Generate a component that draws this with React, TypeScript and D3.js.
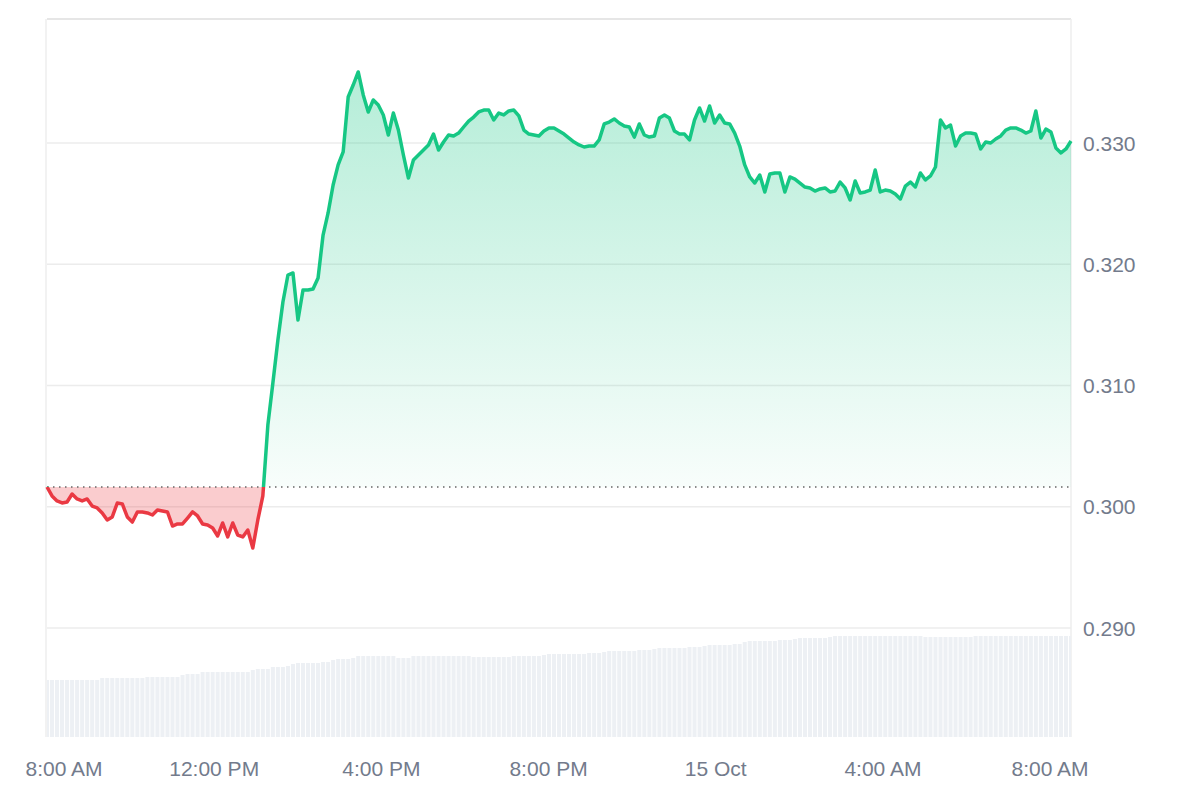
import { useRef, useEffect } from 'react'
import * as d3 from 'd3'

// 24h price, sampled evenly from 8:00 AM (14 Oct) to 8:30 AM (15 Oct)
const startTime = new Date(2024, 9, 14, 8, 0)
const endTime = new Date(2024, 9, 15, 8, 30)

const prices = [
	0.30163, 0.30089, 0.30048, 0.30031, 0.30039, 0.30105, 0.30064, 0.30048, 0.30064, 0.30006,
	0.29990, 0.29949, 0.29891, 0.29916, 0.30031, 0.30023, 0.29916, 0.29874, 0.29957, 0.29957,
	0.29949, 0.29932, 0.29973, 0.29965, 0.29957, 0.29841, 0.29858, 0.29858, 0.29907, 0.29957,
	0.29924, 0.29858, 0.29850, 0.29825, 0.29759, 0.29866, 0.29751, 0.29866, 0.29767, 0.29751,
	0.29808, 0.29660, 0.29891, 0.30089, 0.30674, 0.31021, 0.31375, 0.31689, 0.31911, 0.31928,
	0.31540, 0.31788, 0.31788, 0.31796, 0.31887, 0.32241, 0.32423, 0.32654, 0.32819, 0.32926,
	0.33379, 0.33478, 0.33586, 0.33396, 0.33256, 0.33355, 0.33313, 0.33231, 0.33066, 0.33247,
	0.33107, 0.32901, 0.32711, 0.32860, 0.32901, 0.32942, 0.32984, 0.33074, 0.32942, 0.33008,
	0.33066, 0.33058, 0.33082, 0.33132, 0.33181, 0.33214, 0.33256, 0.33272, 0.33272, 0.33190,
	0.33247, 0.33231, 0.33264, 0.33272, 0.33223, 0.33107, 0.33074, 0.33066, 0.33058, 0.33099,
	0.33124, 0.33124, 0.33099, 0.33074, 0.33041, 0.33008, 0.32984, 0.32967, 0.32975, 0.32975,
	0.33025, 0.33157, 0.33173, 0.33198, 0.33165, 0.33140, 0.33132, 0.33049, 0.33157, 0.33066,
	0.33049, 0.33058, 0.33206, 0.33231, 0.33206, 0.33099, 0.33074, 0.33074, 0.33025, 0.33190,
	0.33289, 0.33181, 0.33305, 0.33165, 0.33231, 0.33165, 0.33157, 0.33082, 0.32975, 0.32819,
	0.32720, 0.32670, 0.32736, 0.32596, 0.32744, 0.32753, 0.32753, 0.32596, 0.32720, 0.32703,
	0.32670, 0.32637, 0.32629, 0.32604, 0.32621, 0.32629, 0.32596, 0.32604, 0.32678, 0.32629,
	0.32530, 0.32687, 0.32588, 0.32596, 0.32612, 0.32777, 0.32596, 0.32612, 0.32604, 0.32579,
	0.32538, 0.32645, 0.32678, 0.32637, 0.32753, 0.32695, 0.32728, 0.32802, 0.33190, 0.33124,
	0.33148, 0.32975, 0.33058, 0.33082, 0.33082, 0.33074, 0.32951, 0.33008, 0.33000, 0.33033,
	0.33058, 0.33107, 0.33124, 0.33124, 0.33107, 0.33082, 0.33099, 0.33264, 0.33041, 0.33115,
	0.33091, 0.32959, 0.32918, 0.32951, 0.33016
]

// rolling volume (millions), one bar per price sample
const volumes = [
	5.7, 5.7, 5.7, 5.7, 5.7, 5.7, 5.7, 5.7, 5.7, 5.7,
	5.7, 5.9, 5.9, 5.9, 5.9, 5.9, 5.9, 5.9, 5.9, 5.9,
	6.0, 6.0, 6.0, 6.0, 6.0, 6.0, 6.0, 6.2, 6.3, 6.3,
	6.3, 6.5, 6.5, 6.5, 6.5, 6.5, 6.5, 6.5, 6.5, 6.5,
	6.5, 6.7, 6.8, 6.8, 6.8, 7.0, 7.0, 7.0, 7.1, 7.3,
	7.4, 7.4, 7.4, 7.4, 7.4, 7.5, 7.5, 7.7, 7.8, 7.8,
	7.8, 7.9, 8.1, 8.1, 8.1, 8.1, 8.1, 8.1, 8.1, 8.1,
	7.9, 7.9, 7.9, 8.1, 8.1, 8.1, 8.1, 8.1, 8.1, 8.1,
	8.1, 8.1, 8.1, 8.1, 8.1, 8.0, 8.0, 8.0, 8.0, 8.0,
	8.0, 8.0, 8.0, 8.1, 8.1, 8.1, 8.1, 8.1, 8.1, 8.2,
	8.3, 8.3, 8.3, 8.3, 8.3, 8.3, 8.3, 8.3, 8.4, 8.4,
	8.4, 8.5, 8.6, 8.6, 8.6, 8.6, 8.6, 8.6, 8.7, 8.7,
	8.7, 8.8, 8.9, 8.9, 8.9, 8.9, 8.9, 8.9, 9.0, 9.0,
	9.0, 9.1, 9.2, 9.2, 9.2, 9.2, 9.2, 9.3, 9.3, 9.5,
	9.6, 9.6, 9.6, 9.6, 9.6, 9.6, 9.7, 9.7, 9.7, 9.8,
	9.9, 9.9, 9.9, 9.9, 9.9, 9.9, 10.0, 10.1, 10.1, 10.1,
	10.1, 10.1, 10.1, 10.1, 10.1, 10.1, 10.1, 10.1, 10.1, 10.1,
	10.1, 10.1, 10.1, 10.1, 10.1, 10.0, 10.0, 10.0, 10.0, 10.0,
	10.0, 10.0, 10.0, 10.0, 10.0, 10.1, 10.1, 10.1, 10.1, 10.1,
	10.1, 10.1, 10.1, 10.1, 10.1, 10.1, 10.1, 10.1, 10.1, 10.1,
	10.1, 10.1, 10.1, 10.1, 10.1
]

const priceTicks = [0.29, 0.30, 0.31, 0.32, 0.33]

const W = 1200
const H = 800
const left = 47
const right = 1071
const top = 19
const bottom = 737

const green = '#16c784'
const red = '#ea3943'
const textColor = '#737b8c'
const font = '"Liberation Sans", Arial, Helvetica, sans-serif'

function App() {
	const ref = useRef(null)

	useEffect(() => {
		const svg = d3.select(ref.current)
		svg.selectAll('*').remove()

		const times = prices.map((_, i) => new Date(+startTime + i * (+endTime - +startTime) / (prices.length - 1)))
		const data = prices.map((p, i) => ({ t: times[i], p: p, v: volumes[i] }))

		const x = d3.scaleTime().domain([startTime, endTime]).range([left, right])
		const y = d3.scaleLinear().domain([0.29, 0.33]).range([628, 143])
		const yVol = d3.scaleLinear().domain([0, 10]).range([bottom, bottom - 100])

		const base = prices[0]
		const baseY = y(base)
		const step = x(times[1]) - x(times[0])

		const defs = svg.append('defs')
		defs.append('clipPath').attr('id', 'clip-plot')
			.append('rect').attr('x', left).attr('y', top).attr('width', right - left).attr('height', bottom - top)
		defs.append('clipPath').attr('id', 'clip-above')
			.append('rect').attr('x', 0).attr('y', 0).attr('width', W).attr('height', baseY)
		defs.append('clipPath').attr('id', 'clip-below')
			.append('rect').attr('x', 0).attr('y', baseY).attr('width', W).attr('height', H - baseY)

		const gGreen = defs.append('linearGradient').attr('id', 'grad-green')
			.attr('gradientUnits', 'userSpaceOnUse')
			.attr('x1', 0).attr('x2', 0).attr('y1', y(d3.max(prices))).attr('y2', baseY)
		gGreen.append('stop').attr('offset', '0%').attr('stop-color', green).attr('stop-opacity', 0.32)
		gGreen.append('stop').attr('offset', '100%').attr('stop-color', green).attr('stop-opacity', 0.03)

		// frame
		svg.append('line').attr('x1', left).attr('x2', right).attr('y1', top).attr('y2', top)
			.attr('stroke', '#e6e6e6').attr('stroke-width', 2)
		svg.append('line').attr('x1', left - 1).attr('x2', left - 1).attr('y1', top).attr('y2', bottom)
			.attr('stroke', '#eeeeee').attr('stroke-width', 1.5)
		svg.append('line').attr('x1', right).attr('x2', right).attr('y1', top).attr('y2', bottom)
			.attr('stroke', '#eeeeee').attr('stroke-width', 1.5)

		// volume bars
		svg.append('g').attr('clip-path', 'url(#clip-plot)')
			.selectAll('rect').data(data).enter().append('rect')
			.attr('x', d => x(d.t) - step / 2 + 0.5)
			.attr('width', step - 1)
			.attr('y', d => yVol(d.v))
			.attr('height', d => bottom - yVol(d.v))
			.attr('fill', '#edf0f4')

		// grid
		svg.append('g').selectAll('line').data(priceTicks).enter().append('line')
			.attr('x1', left).attr('x2', right)
			.attr('y1', d => y(d)).attr('y2', d => y(d))
			.attr('stroke', '#ececec').attr('stroke-width', 1.5)

		const area = d3.area<any>().x(d => x(d.t)).y0(baseY).y1(d => y(d.p))
		const line = d3.line<any>().x(d => x(d.t)).y(d => y(d.p))

		svg.append('path').datum(data).attr('d', area)
			.attr('fill', 'url(#grad-green)').attr('clip-path', 'url(#clip-above)')
		svg.append('path').datum(data).attr('d', area)
			.attr('fill', red).attr('fill-opacity', 0.26).attr('clip-path', 'url(#clip-below)')

		// baseline (open price)
		svg.append('line').attr('x1', left).attr('x2', right).attr('y1', baseY).attr('y2', baseY)
			.attr('stroke', '#666').attr('stroke-width', 1.5).attr('stroke-dasharray', '1.5,4.5')

		svg.append('path').datum(data).attr('d', line)
			.attr('fill', 'none').attr('stroke', green).attr('stroke-width', 3.5)
			.attr('stroke-linejoin', 'round').attr('stroke-linecap', 'butt')
			.attr('clip-path', 'url(#clip-above)')
		svg.append('path').datum(data).attr('d', line)
			.attr('fill', 'none').attr('stroke', red).attr('stroke-width', 3.5)
			.attr('stroke-linejoin', 'round').attr('stroke-linecap', 'butt')
			.attr('clip-path', 'url(#clip-below)')

		// y labels
		svg.append('g').selectAll('text').data(priceTicks).enter().append('text')
			.attr('x', right + 12)
			.attr('y', d => y(d) + 7.5)
			.attr('font-family', font).attr('font-size', '21px').attr('fill', textColor)
			.text(d => d3.format('.3f')(d))

		// x labels
		const fmt = (d: Date) => d.getHours() === 0 ? d3.timeFormat('%-d %b')(d) : d3.timeFormat('%-I:%M %p')(d)
		svg.append('g').selectAll('text').data(x.ticks(d3.timeHour.every(4))).enter().append('text')
			.attr('x', d => Math.max(x(d), 64))
			.attr('y', 776)
			.attr('text-anchor', 'middle')
			.attr('font-family', font).attr('font-size', '21px').attr('fill', textColor)
			.text(d => fmt(d))
	}, [])

	return (
		<svg ref={ref} width={W} height={H} style={{ position: 'absolute', left: 0, top: 0, background: '#fff' }} />
	)
}

export default App
